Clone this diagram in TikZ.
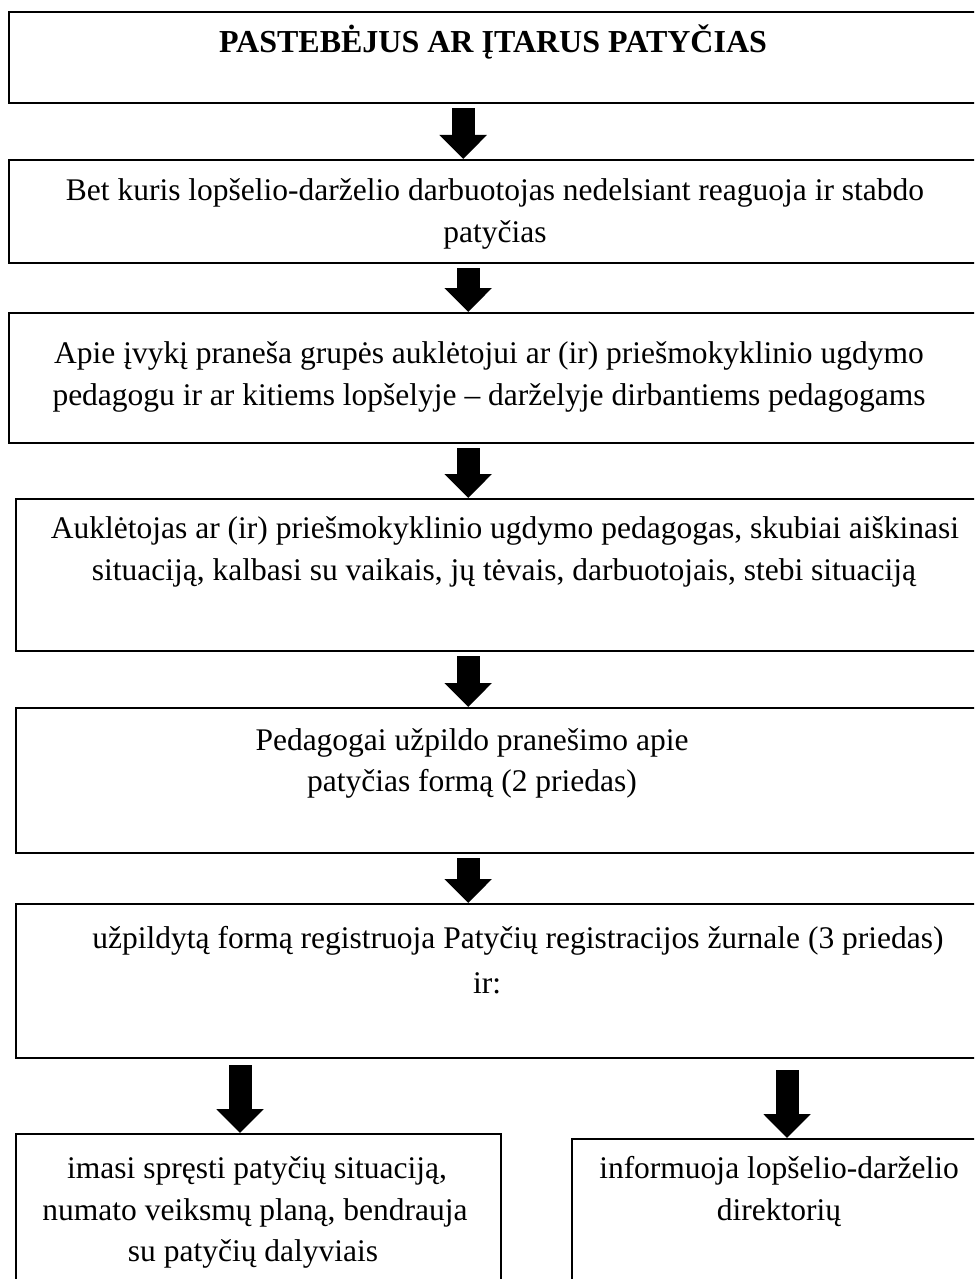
\documentclass[tikz,border=0pt]{standalone}
\usepackage{fontspec}
\setmainfont{Liberation Serif}
\usetikzlibrary{arrows.meta,calc}
\begin{document}
\begin{tikzpicture}[x=1pt,y=1pt,
  box/.style={draw, line width=2.4pt, anchor=north west, inner sep=0pt},
  txt/.style={font=\fontsize{31.5}{42}\selectfont, anchor=base, inner sep=0pt},
  ttl/.style={font=\fontsize{32}{42}\selectfont\bfseries, anchor=base, inner sep=0pt},
  blockarrow/.style={line width=23pt, -{Triangle[width=46pt,length=24pt]}}]
\useasboundingbox (0,0) rectangle (974,-1279);
\fill[white] (0,0) rectangle (974,-1279);
\clip (0,0) rectangle (974,-1279);
% boxes
\node[box, minimum width=972pt, minimum height=91pt]  (b1) at (8,-11) {};
\node[box, minimum width=972pt, minimum height=103pt] (b2) at (8,-159) {};
\node[box, minimum width=972pt, minimum height=130pt] (b3) at (8,-312) {};
\node[box, minimum width=965pt, minimum height=152pt] (b4) at (15,-498) {};
\node[box, minimum width=965pt, minimum height=145pt] (b5) at (15,-707) {};
\node[box, minimum width=965pt, minimum height=154pt] (b6) at (15,-903) {};
\node[box, minimum width=485pt, minimum height=200pt] (b7) at (15,-1133) {};
\node[box, minimum width=430pt, minimum height=200pt] (b8) at (571,-1138) {};
% texts
\node[ttl] (t1) at (493,-53) {PASTEBĖJUS AR ĮTARUS PATYČIAS};
\node[txt] (t2a) at (495,-200) {Bet kuris lopšelio-darželio darbuotojas nedelsiant reaguoja ir stabdo};
\node[txt] (t2b) at (495,-242) {patyčias};
\node[txt] (t3a) at (489,-363) {Apie įvykį praneša grupės auklėtojui ar (ir) priešmokyklinio ugdymo};
\node[txt] (t3b) at (489,-405) {pedagogu ir ar kitiems lopšelyje – darželyje dirbantiems pedagogams};
\node[txt] (t4a) at (505,-538) {Auklėtojas ar (ir) priešmokyklinio ugdymo pedagogas, skubiai aiškinasi};
\node[txt] (t4b) at (504,-580) {situaciją, kalbasi su vaikais, jų tėvais, darbuotojais, stebi situaciją};
\node[txt] (t5a) at (472,-750) {Pedagogai užpildo pranešimo apie};
\node[txt] (t5b) at (472,-791) {patyčias formą (2 priedas)};
\node[txt] (t6a) at (518,-948) {užpildytą formą registruoja Patyčių registracijos žurnale (3 priedas)};
\node[txt] (t6b) at (487,-993) {ir:};
\node[txt] (t7a) at (257,-1178) {imasi spręsti patyčių situaciją,};
\node[txt] (t7b) at (255,-1220) {numato veiksmų planą, bendrauja};
\node[txt] (t7c) at (253,-1261) {su patyčių dalyviais};
\node[txt] (t8a) at (779,-1178) {informuoja lopšelio-darželio};
\node[txt] (t8b) at (779,-1220) {direktorių};
% arrows
\draw[blockarrow] ([xshift=-32pt,yshift=-4pt]b1.south) -- ([xshift=-32pt]b2.north);
\draw[blockarrow] ([xshift=-27pt,yshift=-4pt]b2.south) -- ([xshift=-27pt]b3.north);
\draw[blockarrow] ([xshift=-27pt,yshift=-4pt]b3.south) -- ($(b4.north)+(-30.5,0)$);
\draw[blockarrow] ([xshift=-30.5pt,yshift=-4pt]b4.south) -- ([xshift=-30.5pt]b5.north);
\draw[blockarrow] ([xshift=-30.5pt,yshift=-4pt]b5.south) -- ([xshift=-30.5pt]b6.north);
\draw[blockarrow] ($(b6.south west)+(225,-6)$) -- ($(b7.north west)+(225,0)$);
\draw[blockarrow] ($(b6.south west)+(772,-11)$) -- ($(b8.north west)+(216,0)$);
\end{tikzpicture}
\end{document}
